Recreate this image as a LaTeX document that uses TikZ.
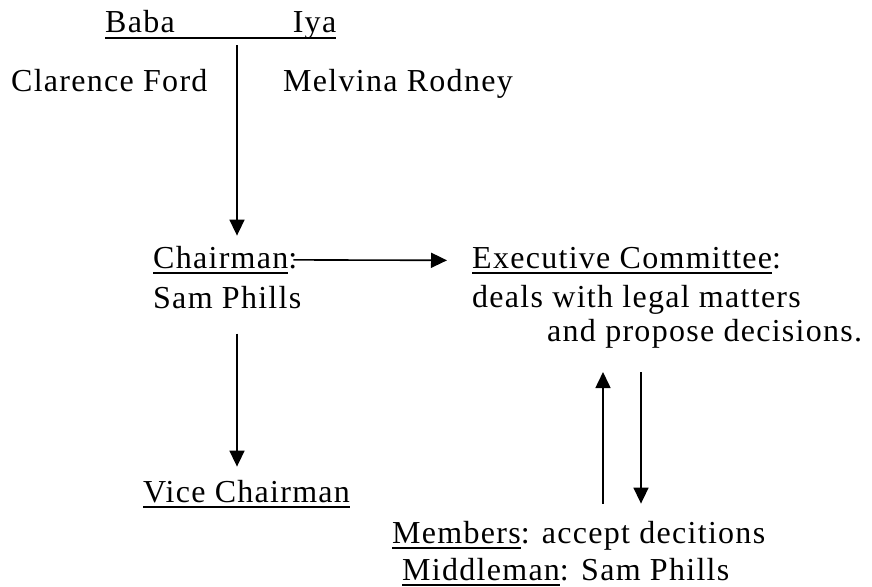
\documentclass[tikz,border=0pt]{standalone}
\usepackage{fontspec}
\setmainfont[LetterSpace=4]{Liberation Serif}
\usetikzlibrary{arrows.meta}
\newcommand{\ulword}[1]{\setbox0\hbox{#1}\rlap{\rule[-6pt]{\wd0}{1.6pt}}\box0}

\begin{document}
\begin{tikzpicture}[x=1pt, y=-1pt,
  entry/.style={anchor=base west, inner sep=0pt, font=\fontsize{32}{38}\selectfont},
  link/.style={-{Triangle[length=16pt,width=15pt]}, line width=1.6pt}
]
  \useasboundingbox (0,0) rectangle (872,586);

  % family
  \node[entry] (parents) at (105,33) {\ulword{Baba\hspace{118pt}Iya}};
  \node[entry] (father) at (11,92) {Clarence Ford};
  \node[entry] (mother) at (283,92) {Melvina Rodney};

  % board
  \node[entry] (chair) at (153,268) {\ulword{Chairman}:};
  \node[entry] (chairname) at (153,308) {Sam Phills};
  \node[entry] (exec) at (472,268) {\ulword{Executive Committee}:};
  \node[entry] (execduty) at (472,307) {deals with legal matters};
  \node[entry] (execduty2) at (547,341) {and propose decisions.};
  \node[entry] (vice) at (143,502) {\ulword{Vice Chairman}};
  \node[entry] (members) at (392,543) {\ulword{Members}: accept decitions};
  \node[entry] (middle) at (402,580) {\ulword{Middleman}: Sam Phills};

  \coordinate (trunk) at (237,0);
  \coordinate (upline) at (603,0);
  \coordinate (downline) at (641,0);

  \draw[link, shorten <=5pt, shorten >=10pt] (parents.south -| trunk) -- (chair.north -| trunk);
  \draw[link, shorten <=-4pt, shorten >=25pt] (chair.east) -- (exec.west);
  \draw[link, shorten <=25pt, shorten >=13pt] (chairname.south -| trunk) -- (vice.north -| trunk);
  \draw[link, shorten <=17pt, shorten >=24pt] (members.north -| upline) -- (execduty2.south -| upline);
  \draw[link, shorten <=24pt, shorten >=17pt] (execduty2.south -| downline) -- (members.north -| downline);
\end{tikzpicture}
\end{document}
